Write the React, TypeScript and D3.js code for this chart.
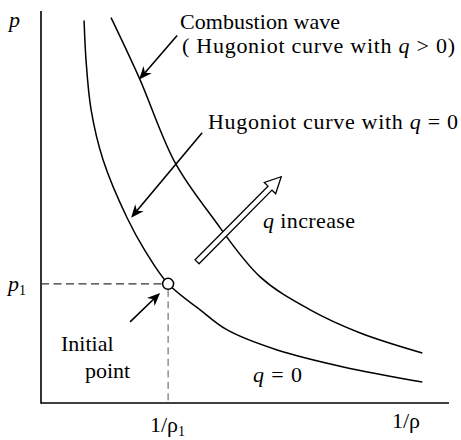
import React from "react";
import * as d3 from "d3";

// specific volume 1/rho (in units of 1/rho1) and pressure (in units of p1)
const hugoniotQ0V = [0.339, 0.354, 0.394, 0.488, 0.677, 0.819, 1.0, 1.252, 1.465, 1.858, 2.378, 3.0];
const hugoniotQ0P = [3.21, 2.882, 2.462, 2.042, 1.555, 1.277, 1.0, 0.782, 0.613, 0.445, 0.303, 0.176];

const combustionV = [0.551, 0.772, 1.055, 1.346, 1.724, 2.118, 2.512, 3.0];
const combustionP = [3.235, 2.731, 2.017, 1.563, 1.059, 0.782, 0.588, 0.42];

const initialV = 1.0;
const initialP = 1.0;

// annotation arrows: [tailV, tailP, tipV, tipP]
const pointerArrows = [
  [1.071, 3.084, 0.772, 2.715],
  [1.268, 2.269, 0.709, 1.555],
  [0.701, 0.681, 0.937, 0.924],
];
const increaseArrow = [1.228, 1.185, 1.89, 1.899];

const W = 461;
const H = 440;
const x0 = 41;
const y0 = 403;

const serif = "Liberation Serif, Tinos, DejaVu Serif, serif";

function headPts(tx, ty, hx, hy) {
  const dx = hx - tx, dy = hy - ty;
  const len = Math.hypot(dx, dy);
  const ux = dx / len, uy = dy / len;
  const nx = -uy, ny = ux;
  const L = 13, w = 5.5, n = 4;
  const bx = hx - ux * L, by = hy - uy * L;
  return [
    [hx, hy],
    [bx + nx * w, by + ny * w],
    [hx - ux * (L - n), hy - uy * (L - n)],
    [bx - nx * w, by - ny * w],
  ];
}

function hollowPts(tx, ty, hx, hy) {
  const dx = hx - tx, dy = hy - ty;
  const len = Math.hypot(dx, dy);
  const ux = dx / len, uy = dy / len;
  const nx = -uy, ny = ux;
  const hl = 16, hw = 8, hs = 2.8;
  const bx = hx - ux * hl, by = hy - uy * hl;
  return [
    [tx + nx * hs, ty + ny * hs],
    [bx + nx * hs, by + ny * hs],
    [bx + nx * hw, by + ny * hw],
    [hx, hy],
    [bx - nx * hw, by - ny * hw],
    [bx - nx * hs, by - ny * hs],
    [tx - nx * hs, ty - ny * hs],
  ];
}

export default function App() {
  const x = d3.scaleLinear().domain([0, 3.21]).range([x0, 449]);
  const y = d3.scaleLinear().domain([0, 3.29]).range([y0, 11]);

  const line = d3.line<number>().curve(d3.curveCatmullRom.alpha(0.5));

  const q0Path = line.x((d, i) => x(hugoniotQ0V[i])).y((d) => y(d))(hugoniotQ0P);
  const combPath = line.x((d, i) => x(combustionV[i])).y((d) => y(d))(combustionP);

  const px = x(initialV);
  const py = y(initialP);

  const inc = increaseArrow;

  return (
    <svg
      width={W}
      height={H}
      style={{ position: "absolute", left: 0, top: 0, background: "#fff", fontFamily: serif }}
    >
      {/* axes */}
      <line x1={x0} y1={11} x2={x0} y2={y0 + 0.75} stroke="#000" strokeWidth={1.6} />
      <line x1={x0} y1={y0} x2={449} y2={y0} stroke="#000" strokeWidth={1.6} />

      {/* initial point guides */}
      <line x1={x0} y1={py} x2={px - 5} y2={py} stroke="#333" strokeWidth={1.1} strokeDasharray="8,4.5" />
      <line x1={px} y1={py + 6} x2={px} y2={y0} stroke="#555" strokeWidth={1} strokeDasharray="7,4.5" />

      {/* curves */}
      <path d={q0Path} fill="none" stroke="#000" strokeWidth={1.5} />
      <path d={combPath} fill="none" stroke="#000" strokeWidth={1.5} />

      <circle cx={px} cy={py} r={5.5} fill="#fff" stroke="#000" strokeWidth={1.5} />

      {/* pointer arrows */}
      {pointerArrows.map((a, i) => {
        const tx = x(a[0]), ty = y(a[1]), hx = x(a[2]), hy = y(a[3]);
        const pts = headPts(tx, ty, hx, hy);
        const dx = hx - tx, dy = hy - ty;
        const len = Math.hypot(dx, dy);
        return (
          <g key={i}>
            <line
              x1={tx}
              y1={ty}
              x2={hx - (dx / len) * 8}
              y2={hy - (dy / len) * 8}
              stroke="#000"
              strokeWidth={1.6}
            />
            <polygon points={pts.map((p) => p.join(",")).join(" ")} fill="#000" />
          </g>
        );
      })}

      {/* q increase hollow arrow */}
      <polygon
        points={hollowPts(x(inc[0]), y(inc[1]), x(inc[2]), y(inc[3]))
          .map((p) => p.join(","))
          .join(" ")}
        fill="#fff"
        stroke="#000"
        strokeWidth={1.3}
        strokeLinejoin="miter"
      />

      {/* labels */}
      <g fontSize={22} fill="#000" style={{ fontFamily: serif }}>
        <text x={9} y={27} fontStyle="italic">p</text>
        <text x={8} y={291} fontStyle="italic">
          p<tspan fontSize={14} fontStyle="normal" dy={4}>1</tspan>
        </text>

        <text x={180} y={29} textLength={160} lengthAdjust="spacing">Combustion wave</text>
        <text x={182} y={53} textLength={273} lengthAdjust="spacing">
          ( Hugoniot curve with <tspan fontStyle="italic">q</tspan> &gt; 0)
        </text>
        <text x={208} y={129} textLength={250} lengthAdjust="spacing">
          Hugoniot curve with <tspan fontStyle="italic">q</tspan> = 0
        </text>
        <text x={263} y={228} textLength={92} lengthAdjust="spacing">
          <tspan fontStyle="italic">q</tspan> increase
        </text>
        <text x={61} y={351}>Initial</text>
        <text x={85} y={378}>point</text>
        <text x={253} y={382} textLength={49} lengthAdjust="spacing">
          <tspan fontStyle="italic">q</tspan> = 0
        </text>
        <text x={150} y={432}>
          1/ρ<tspan fontSize={14} dy={4}>1</tspan>
        </text>
        <text x={392} y={428}>1/ρ</text>
      </g>
    </svg>
  );
}
